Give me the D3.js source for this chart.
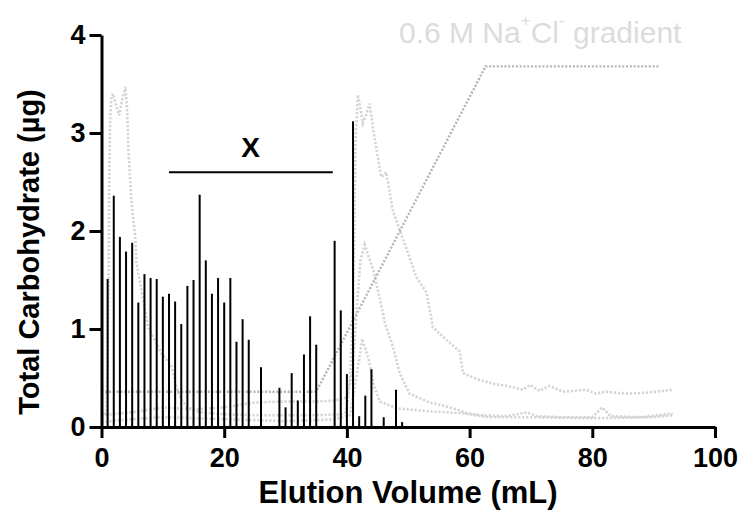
<!DOCTYPE html>
<html>
<head>
<meta charset="utf-8">
<script src="https://cdn.jsdelivr.net/npm/d3@7"></script>
<style>
  body { margin: 0; background: #fff; }
  svg { display: block; font-family: "Liberation Sans", Arial, sans-serif; }
</style>
</head>
<body>
<div id="wrapper"></div>
<script>
// fraction volumes (mL) and carbohydrate per fraction (µg)
const fractionVolumes = [1,2,3,4,5,6,7,8,9,10,11,12,13,14,15,16,17,18,19,20,21,22,23,24,26,29,30,31,32,33,34,35,38,39,40,41,42,43,44,46,48,49]
const carbohydrate = [1.51,2.36,1.94,1.79,1.88,1.27,1.56,1.52,1.51,1.33,1.36,1.28,1.05,1.44,1.50,2.37,1.70,1.36,1.52,1.27,1.52,0.87,1.10,0.89,0.61,0.40,0.20,0.55,0.27,0.74,1.13,0.84,1.90,1.19,0.54,3.12,0.11,0.32,0.59,0.10,0.38,0.05]

// salt gradient (drawn on the same axis)
const gradientVolume = [0, 35, 62.6, 90.8]
const gradientLevel = [0.36, 0.36, 3.68, 3.68]

// light dotted elution traces
const traceOneVolume = [0,0.8,1.0,1.15,1.25,1.4,1.6,1.9,2.3,2.9,3.4,3.9,4.2,4.4,4.9,5.5,5.7,6.3,7.6,9.8,11.4,12.2,13,14,16,20,25,30,35,39,39.8,40.2,40.6,41.0,41.2,41.4,41.8,42.2,42.6,43.2,43.7,44.3,45.6,46.4,47.5,49.2,51.3,53,54,56.2,58.4,58.9,61.6,64,66,68.7,69.8,71.4,73,75.2,79,80.6,82.3,85.5,88.8,93.1]
const traceOneLevel = [0.1,0.15,0.6,1.5,2.4,3.1,3.38,3.4,3.3,3.18,3.35,3.47,3.2,2.8,2.28,1.94,1.67,1.47,1.02,0.75,0.62,0.41,0.28,0.2,0.15,0.13,0.12,0.12,0.12,0.13,0.15,0.3,0.6,1.2,2.0,2.9,3.39,3.25,3.1,3.2,3.3,3.03,2.55,2.6,2.2,1.91,1.53,1.37,1.02,0.89,0.77,0.55,0.48,0.44,0.42,0.38,0.43,0.37,0.42,0.36,0.38,0.34,0.36,0.34,0.35,0.38]

const traceTwoVolume = [0,5,10,15,20,25,30,35,38,40,41,41.6,42.2,42.9,44.3,45.4,46.2,47.5,48.6,50.2,53.5,56.2,58.4,59.5,62,66,69.4,71,75,80,81.6,83,88,93.1]
const traceTwoLevel = [0.12,0.15,0.2,0.18,0.2,0.25,0.26,0.26,0.27,0.3,0.6,1.2,1.7,1.86,1.6,1.3,1.06,0.82,0.55,0.34,0.25,0.21,0.17,0.14,0.12,0.11,0.15,0.11,0.1,0.1,0.2,0.11,0.1,0.14]

const traceThreeVolume = [0,5,10,15,20,25,30,35,38,40.5,41.5,42.5,43.5,44.5,45.4,48.1,53.5,58.9,63,70,80,90,93.1]
const traceThreeLevel = [0.05,0.08,0.1,0.09,0.08,0.07,0.06,0.07,0.08,0.12,0.5,0.9,0.7,0.4,0.26,0.19,0.16,0.14,0.1,0.1,0.09,0.1,0.12]

const xTicks = [0, 20, 40, 60, 80, 100]
const yTicks = [0, 1, 2, 3, 4]

const width = 743
const height = 513
const margin = { top: 35, right: 28, bottom: 86, left: 101.5 }

const svg = d3.select("#wrapper")
  .append("svg")
    .attr("width", width)
    .attr("height", height)

const x = d3.scaleLinear().domain([0, 100]).range([margin.left, width - margin.right])
const y = d3.scaleLinear().domain([0, 4]).range([height - margin.bottom, margin.top])

// dotted traces first so the bars sit on top
const line = d3.line().x(d => x(d[0])).y(d => y(d[1]))
const lightTraces = [
  d3.zip(traceOneVolume, traceOneLevel),
  d3.zip(traceTwoVolume, traceTwoLevel),
  d3.zip(traceThreeVolume, traceThreeLevel)
]
svg.append("g").selectAll("path")
  .data(lightTraces)
  .join("path")
    .attr("d", line)
    .attr("fill", "none")
    .attr("stroke", "#d4d4d4")
    .attr("stroke-width", 2.6)
    .attr("stroke-dasharray", "2.2,1.8")

svg.append("path")
  .attr("d", line(d3.zip(gradientVolume, gradientLevel)))
  .attr("fill", "none")
  .attr("stroke", "#b4b4b4")
  .attr("stroke-width", 2.4)
  .attr("stroke-dasharray", "2,1.8")

// gradient label
const gradText = svg.append("text")
  .attr("x", 399)
  .attr("y", 43)
  .attr("fill", "#dcdcdc")
  .style("font-size", "30px")
gradText.append("tspan").text("0.6 M Na")
gradText.append("tspan").attr("dy", -17).style("font-size", "17px").text("+")
gradText.append("tspan").attr("dy", 17).text("Cl")
gradText.append("tspan").attr("dy", -17).style("font-size", "17px").text("-")
gradText.append("tspan").attr("dy", 17).text(" gradient")

// fraction bars
svg.append("g").selectAll("line")
  .data(d3.zip(fractionVolumes, carbohydrate))
  .join("line")
    .attr("x1", d => x(d[0]))
    .attr("x2", d => x(d[0]))
    .attr("y1", y(0))
    .attr("y2", d => y(d[1]))
    .attr("stroke", "#000")
    .attr("stroke-width", 2)

// pooled region "X"
svg.append("line")
  .attr("x1", x(11)).attr("x2", x(37.7))
  .attr("y1", y(2.6)).attr("y2", y(2.6))
  .attr("stroke", "#000")
  .attr("stroke-width", 2)
svg.append("text")
  .attr("x", x(24.3))
  .attr("y", 157)
  .attr("text-anchor", "middle")
  .style("font-size", "28px")
  .style("font-weight", "bold")
  .text("X")

// axes
const xAxis = svg.append("g")
  .attr("transform", `translate(0,${y(0)})`)
  .call(d3.axisBottom(x).tickValues(xTicks).tickSize(11).tickSizeOuter(0).tickPadding(10))
const yAxis = svg.append("g")
  .attr("transform", `translate(${margin.left},0)`)
  .call(d3.axisLeft(y).tickValues(yTicks).tickFormat(d3.format("d")).tickSize(12).tickSizeOuter(0).tickPadding(4))

for (const ax of [xAxis, yAxis]) {
  ax.select(".domain").attr("stroke-width", 3).attr("stroke", "#000")
  ax.selectAll(".tick line").attr("stroke-width", 3).attr("stroke", "#000")
  ax.selectAll(".tick text")
    .attr("fill", "#000")
    .style("font-size", "27px")
    .style("font-weight", "bold")
    .style("font-family", "'Liberation Sans', Arial, sans-serif")
}

// axis titles
svg.append("text")
  .attr("x", 408)
  .attr("y", 503)
  .attr("text-anchor", "middle")
  .style("font-size", "31px")
  .style("font-weight", "bold")
  .text("Elution Volume (mL)")

svg.append("text")
  .attr("transform", "translate(39,252) rotate(-90)")
  .attr("text-anchor", "middle")
  .style("font-size", "29px")
  .style("font-weight", "bold")
  .text("Total Carbohydrate (µg)")
</script>
</body>
</html>
